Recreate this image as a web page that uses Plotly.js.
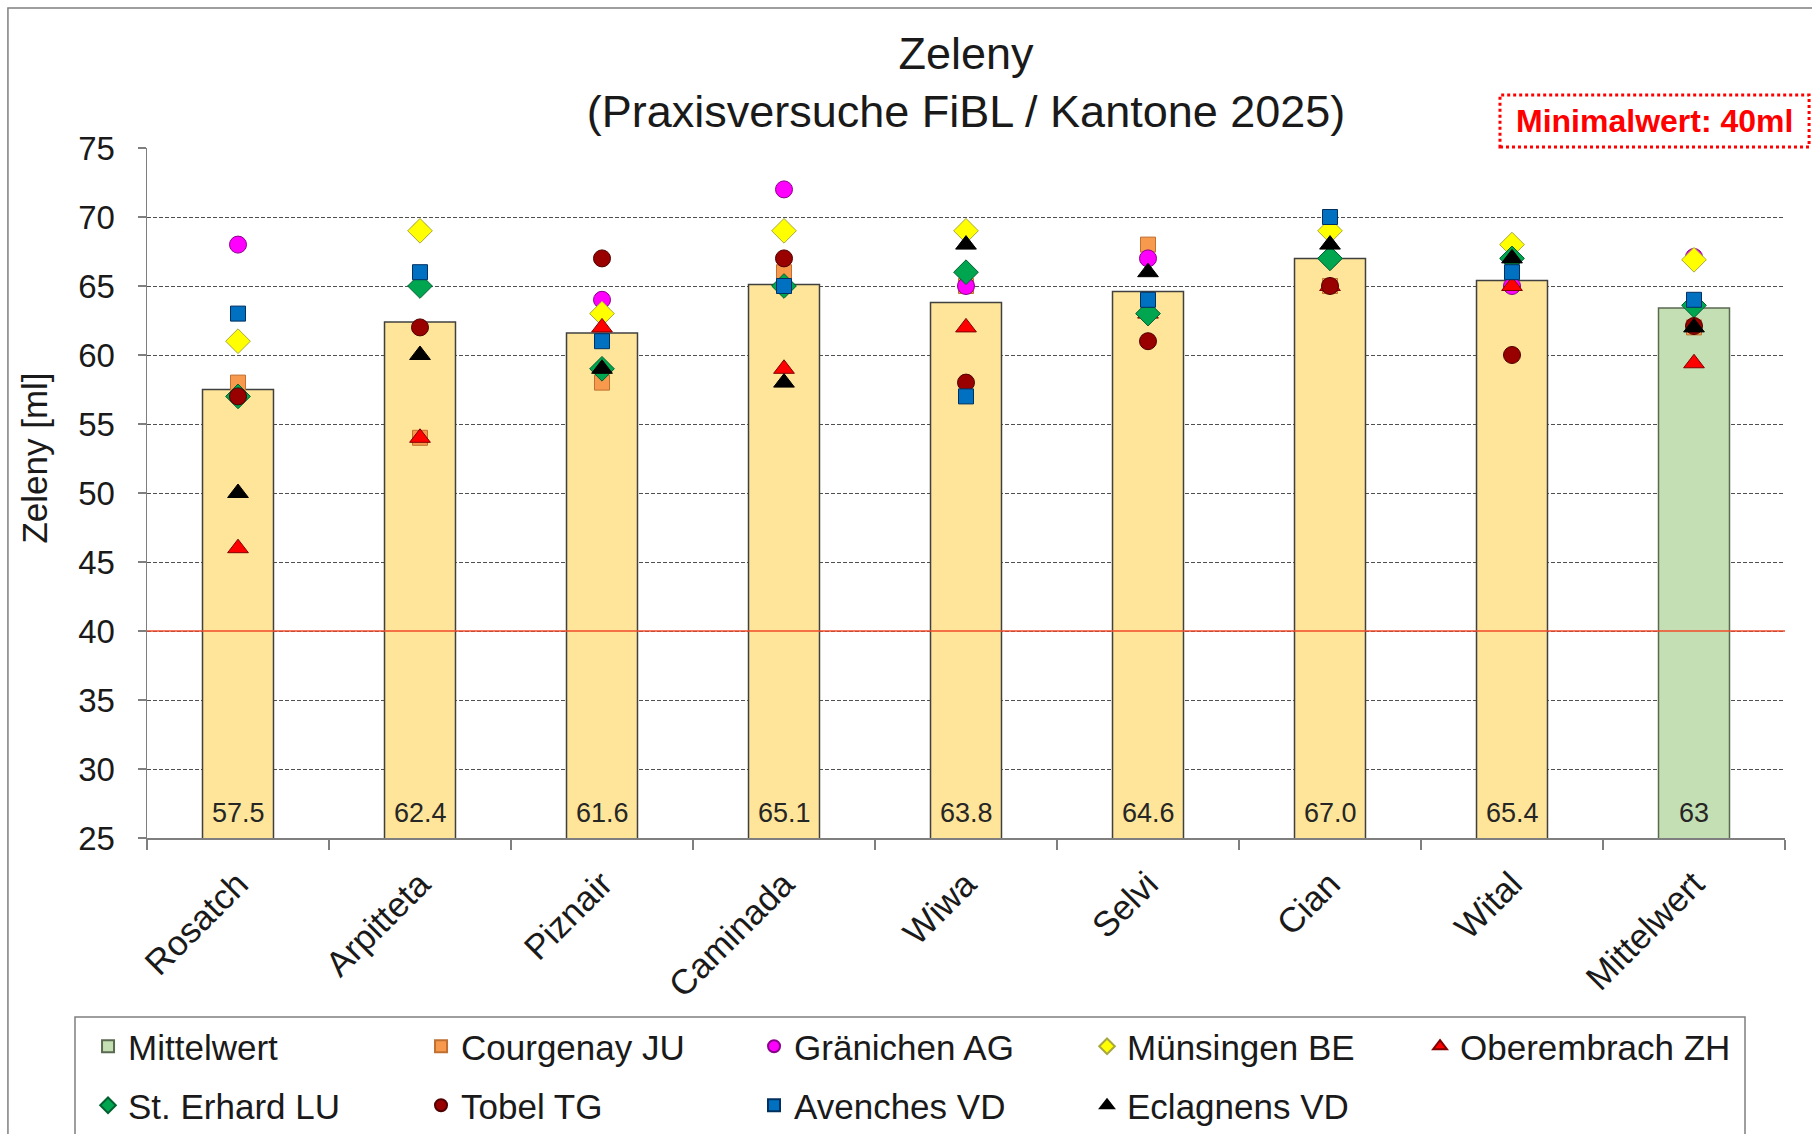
<!DOCTYPE html>
<html>
<head>
<meta charset="utf-8">
<script src="https://cdn.plot.ly/plotly-3.0.1.min.js"></script>
<style>
  html, body { margin: 0; padding: 0; background: #ffffff; }
  #chart { width: 1812px; height: 1134px; }
</style>
</head>
<body>
<div id="chart"></div>
<script>
// ---- Data ----
const categories = ['Rosatch', 'Arpitteta', 'Piznair', 'Caminada', 'Wiwa', 'Selvi', 'Cian', 'Wital', 'Mittelwert'];
const barValues  = [57.5, 62.4, 61.6, 65.1, 63.8, 64.6, 67.0, 65.4, 63.4];
const barLabels  = ['57.5', '62.4', '61.6', '65.1', '63.8', '64.6', '67.0', '65.4', '63'];

const courgenayJU   = [58, 54, 58, 66, 65, 68, 65, null, 62.0];
const graenichenAG  = [68, 69, 64, 72, 65, 67, 67, 65, 67.1];
const muensingenBE  = [61, 69, 63, 69, 69, null, 69, 68, 66.9];
const oberembrachZH = [46, 54, 62, 59, 62, 63, 65, 65, 59.4];
const stErhardLU    = [57, 65, 59, 65, 66, 63, 67, 67, 63.6];
const tobelTG       = [57, 62, 67, 67, 58, 61, 65, 60, 62.1];
const avenchesVD    = [63, 66, 61, 65, 57, 64, 70, 66, 64.0];
const eclagnensVD   = [50, 60, 59, 58, 68, 66, 68, 67, 62.0];

const minimalwert = 40;
const yTicks = [25, 30, 35, 40, 45, 50, 55, 60, 65, 70, 75];
const yTitle = 'Zeleny [ml]';

// ---- Styling ----
const FONT = 'Liberation Sans, Arial, sans-serif';
const TXT = '#1a1a1a';
const meanName = 'Mittelwert';
const nVar = categories.length - 1;

const traces = [];

// variety bars (yellow)
traces.push({
  type: 'bar',
  x: categories.slice(0, nVar),
  y: barValues.slice(0, nVar),
  marker: { color: '#FEE599', line: { color: '#404040', width: 1.5 } },
  showlegend: false,
  hoverinfo: 'skip'
});
// mean bar (green)
traces.push({
  type: 'bar',
  name: meanName,
  x: categories.slice(nVar),
  y: barValues.slice(nVar),
  marker: { color: '#C5DFB4', line: { color: '#5a6a50', width: 1.5 } },
  legend: 'legend'
});

function pts(name, values, symbol, size, color, lineColor, legendId) {
  return {
    type: 'scatter', mode: 'markers', name: name,
    x: categories, y: values,
    marker: { symbol: symbol, size: size, color: color, line: { color: lineColor, width: 1 } },
    legend: legendId, cliponaxis: false
  };
}
traces.push(pts('Courgenay JU',   courgenayJU,   'square',      15, '#F79A4E', '#C07030', 'legend'));
traces.push(pts('Gränichen AG',   graenichenAG,  'circle',      17, '#FF00FF', '#8A008A', 'legend'));
traces.push(pts('Münsingen BE',   muensingenBE,  'diamond',     19, '#FFFF00', '#A8A840', 'legend'));
traces.push(pts('Oberembrach ZH', oberembrachZH, 'triangle-up', 18, '#FF0000', '#800000', 'legend'));
traces.push(pts('St. Erhard LU',  stErhardLU,    'diamond',     19, '#00A550', '#006030', 'legend2'));
traces.push(pts('Tobel TG',       tobelTG,       'circle',      17, '#990000', '#500000', 'legend2'));
traces.push(pts('Avenches VD',    avenchesVD,    'square',      15, '#0070C0', '#003060', 'legend2'));
traces.push(pts('Eclagnens VD',   eclagnensVD,   'triangle-up', 18, '#000000', '#000000', 'legend2'));

// value labels at the bottom of each bar
const annotations = categories.map((c, i) => ({
  x: c, y: yTicks[0], xref: 'x', yref: 'y',
  text: barLabels[i], showarrow: false,
  yanchor: 'bottom', yshift: 8,
  font: { family: FONT, size: 27, color: '#262626' }
}));
// "Minimalwert" note
annotations.push({
  x: 0.9203, y: 1.0391, xref: 'paper', yref: 'paper',
  text: '<b>Minimalwert: ' + minimalwert + 'ml</b>', showarrow: false,
  xanchor: 'center', yanchor: 'middle',
  font: { family: FONT, size: 32, color: '#FF0000' }
});
// y-axis title (placed like the reference, slightly above the axis middle)
annotations.push({
  x: -0.0684, y: 0.5513, xref: 'paper', yref: 'paper',
  text: yTitle, showarrow: false, textangle: -90,
  xanchor: 'center', yanchor: 'middle',
  font: { family: FONT, size: 35, color: TXT }
});

const legendCommon = {
  orientation: 'h', xanchor: 'left', yanchor: 'top',
  entrywidth: 288, entrywidthmode: 'pixels',
  itemsizing: 'constant', borderwidth: 0, bgcolor: 'rgba(0,0,0,0)',
  font: { family: FONT, size: 35, color: TXT }
};

const layout = {
  width: 1812, height: 1134,
  margin: { l: 147, r: 27, t: 148, b: 296, pad: 0 },
  paper_bgcolor: '#ffffff', plot_bgcolor: '#ffffff',
  font: { family: FONT, color: TXT },
  barmode: 'overlay', bargap: 0.61,
  title: {
    text: 'Zeleny<br>(Praxisversuche FiBL / Kantone 2025)',
    font: { family: FONT, size: 45, color: TXT },
    x: 0.5, xref: 'paper', xanchor: 'center',
    y: 0.9392, yref: 'container', yanchor: 'middle'
  },
  xaxis: {
    type: 'category', categoryorder: 'array', categoryarray: categories,
    range: [-0.5, categories.length - 0.5],
    tickangle: -45, tickfont: { family: FONT, size: 35, color: TXT },
    ticklabelstandoff: 10,
    showline: true, linecolor: '#7f7f7f', linewidth: 1.5,
    ticks: 'outside', tickson: 'boundaries', ticklen: 10, tickcolor: '#7f7f7f', tickwidth: 1.5,
    showgrid: false, zeroline: false, fixedrange: true, automargin: false
  },
  yaxis: {
    range: [yTicks[0], yTicks[yTicks.length - 1]],
    tickvals: yTicks,
    tickfont: { family: FONT, size: 33, color: TXT },
    showline: true, linecolor: '#7f7f7f', linewidth: 1.5,
    ticks: 'outside', ticklen: 8, tickcolor: '#7f7f7f', tickwidth: 1.5,
    ticklabelstandoff: 16,
    showgrid: true, gridcolor: '#505050', gridwidth: 1, griddash: '4px,2px',
    zeroline: false, fixedrange: true, automargin: false,
    title: { text: '' }
  },
  // row 1 of the legend (paper-anchored left of the plot so 5 entries fit on one row)
  legend: Object.assign({}, legendCommon, { xref: 'paper', yref: 'paper', x: -0.036, y: -0.2594 }),
  // row 2 of the legend
  legend2: Object.assign({}, legendCommon, { xref: 'container', yref: 'container', x: 0.04857, y: 0.0511 }),
  shapes: [
    // minimum value line
    { type: 'line', xref: 'paper', yref: 'y', x0: 0, x1: 1, y0: minimalwert, y1: minimalwert,
      line: { color: '#F04A2A', width: 1.3 }, layer: 'above' },
    // "Minimalwert" dotted box
    { type: 'rect', xref: 'paper', yref: 'paper', x0: 0.826, x1: 1.0147, y0: 1.0014, y1: 1.0768,
      line: { color: '#FF0000', width: 3, dash: 'dot' }, fillcolor: 'rgba(0,0,0,0)', layer: 'above' },
    // legend frame
    { type: 'rect', xref: 'paper', yref: 'paper', x0: -0.04396, x1: 0.97558, y0: -0.46, y1: -0.2594,
      line: { color: '#7f7f7f', width: 1.5 }, fillcolor: 'rgba(0,0,0,0)', layer: 'below' },
    // outer chart frame
    { type: 'rect', xref: 'paper', yref: 'paper', x0: -0.0849, x1: 1.03, y0: -0.47, y1: 1.2029,
      line: { color: '#7f7f7f', width: 1.5 }, fillcolor: 'rgba(0,0,0,0)', layer: 'below' }
  ],
  annotations: annotations,
  showlegend: true
};

Plotly.newPlot('chart', traces, layout, { displayModeBar: false, staticPlot: true });
</script>
</body>
</html>
